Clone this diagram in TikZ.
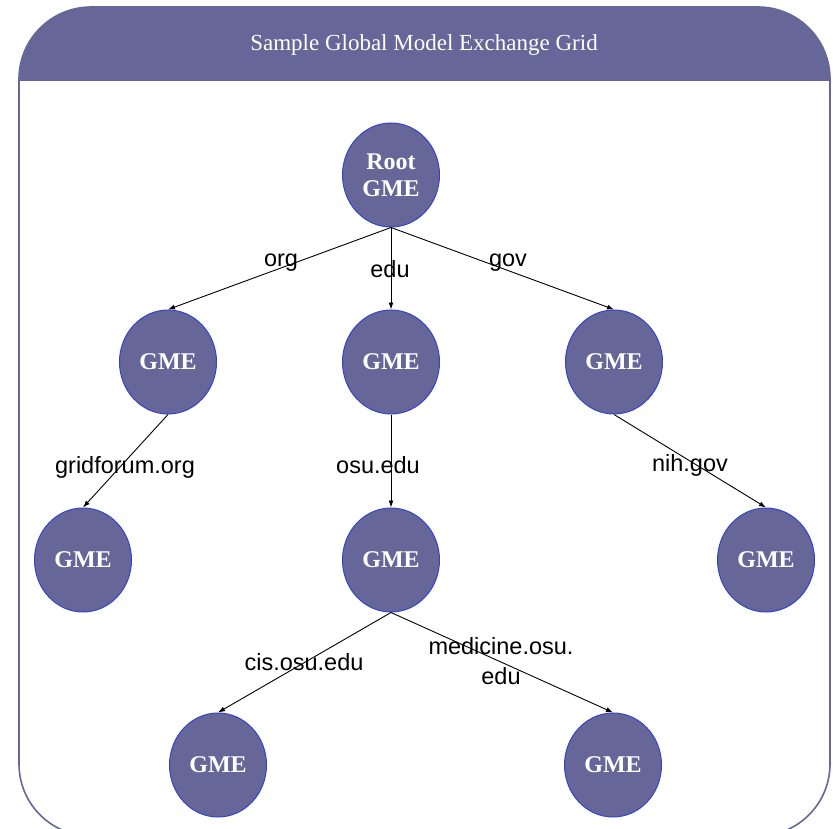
\documentclass[tikz,border=0pt]{standalone}
\usepackage{fontspec}
\setmainfont{Liberation Serif}
\newfontfamily\labelfont{Liberation Sans}
\usetikzlibrary{shapes.geometric,arrows.meta}
\definecolor{gmefill}{HTML}{666699}
\definecolor{gmeedge}{HTML}{3344CC}
\begin{document}
\begin{tikzpicture}[x=1pt,y=-1pt,
  gme/.style={ellipse, fill=gmefill, draw=gmeedge, line width=1pt,
    minimum width=97pt, minimum height=104pt, inner sep=0pt,
    text=white, font=\fontsize{24}{27}\selectfont\bfseries, align=center},
  link/.style={draw=black, line width=0.9pt, -{Latex[length=7pt,width=5pt]}},
  lbl/.style={anchor=base, font=\labelfont\fontsize{23.5}{30}\selectfont,
    text=black, inner sep=0pt, align=center},
  frameline/.style={draw=gmefill, line width=1.6pt}
]
\useasboundingbox (0,0) rectangle (833,829);

% outer frame with its coloured title band
\begin{scope}
  \clip (0,0) rectangle (833,829);
  \begin{scope}
    \clip (0,0) rectangle (833,81);
    \fill[gmefill, rounded corners=72pt] (19,7) rectangle (830,836);
  \end{scope}
  \draw[frameline, rounded corners=72pt] (19,7) rectangle (830,836);
\end{scope}
\node[anchor=base, text=white, font=\fontsize{23}{28}\selectfont, inner sep=0pt]
  (title) at (424,51) {Sample Global Model Exchange Grid};

% tree of exchange nodes
\node[gme] (root) at (391,175) {Root\\GME};

\node[gme] (org) at (168,362) {GME};
\node[gme] (edu) at (391,362) {GME};
\node[gme] (gov) at (614,362) {GME};

\node[gme] (gridforum) at (83,560) {GME};
\node[gme] (osu) at (391,560) {GME};
\node[gme] (nih) at (766,560) {GME};

\node[gme] (cis) at (218,765) {GME};
\node[gme] (medicine) at (613,765) {GME};

% connectors
\draw[link] (root.south) -- (org.north);
\draw[link] (root.south) -- (edu.north);
\draw[link] (root.south) -- (gov.north);
\draw[link] (org.south) -- (gridforum.north);
\draw[link] (edu.south) -- (osu.north);
\draw[link] (gov.south) -- (nih.north);
\draw[link] (osu.south) -- (cis.north);
\draw[link] (osu.south) -- (medicine.north);

% domain labels
\node[lbl] (lorg) at (281,266) {org};
\node[lbl] (ledu) at (390,277) {edu};
\node[lbl] (lgov) at (508,266) {gov};
\node[lbl] (lgridforum) at (125,473) {gridforum.org};
\node[lbl] (losu) at (378,473) {osu.edu};
\node[lbl] (lnih) at (690,471) {nih.gov};
\node[lbl] (lcis) at (304,670) {cis.osu.edu};
\node[lbl] (lmedicine) at (501,684) {medicine.osu.\\edu};
\end{tikzpicture}
\end{document}
